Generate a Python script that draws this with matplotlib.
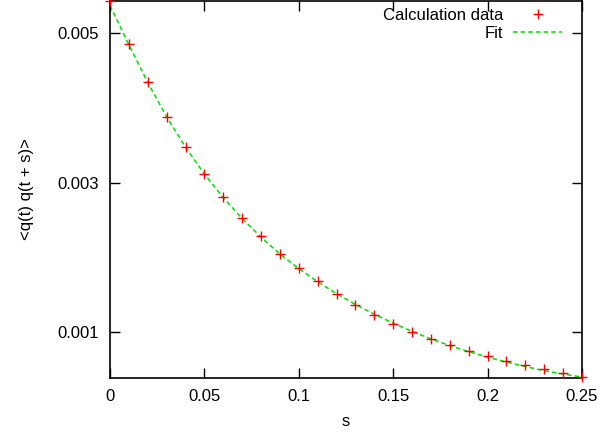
import matplotlib
matplotlib.use("Agg")
import matplotlib.pyplot as plt

s_data = [0.00, 0.01, 0.02, 0.03, 0.04, 0.05, 0.06, 0.07, 0.08, 0.09,
          0.10, 0.11, 0.12, 0.13, 0.14, 0.15, 0.16, 0.17, 0.18, 0.19,
          0.20, 0.21, 0.22, 0.23, 0.24, 0.25]
corr_data = [0.00543, 0.004857, 0.004343, 0.003876, 0.00348, 0.00312,
             0.002804, 0.002529, 0.00228, 0.002049, 0.001857, 0.00168,
             0.001516, 0.001369, 0.001227, 0.001107, 0.001009, 0.000911,
             0.000822, 0.000747, 0.00068, 0.000613, 0.00056, 0.000507,
             0.000457, 0.000404]
# fit curve
s_fit = [0.00, 0.01, 0.02, 0.03, 0.04, 0.05, 0.06, 0.07, 0.08, 0.09,
         0.10, 0.11, 0.12, 0.13, 0.14, 0.15, 0.16, 0.17, 0.18, 0.19,
         0.20, 0.21, 0.22, 0.23, 0.24, 0.25]
corr_fit = [0.00537, 0.004845, 0.004340, 0.003880, 0.003475, 0.003115,
            0.002800, 0.002520, 0.002270, 0.002045, 0.001850, 0.001675,
            0.001515, 0.001370, 0.001240, 0.001120, 0.001010, 0.000910,
            0.000820, 0.000740, 0.000665, 0.000600, 0.000540, 0.000485,
            0.000440, 0.000400]

plt.rcParams["font.family"] = ["Liberation Sans", "DejaVu Sans"]
plt.rcParams["font.size"] = 12

fig = plt.figure(figsize=(6, 4.33), dpi=100)
ax = fig.add_axes([110 / 600, 55 / 433, 472 / 600, 377 / 433])

ax.plot(s_data, corr_data, "+", color="red", ms=7.5, mew=1.0,
        label="Calculation data", clip_on=False, zorder=3)
ax.plot(s_fit, corr_fit, color="#00e000", lw=1.1, dashes=(3, 2),
        label="Fit", zorder=2)

ax.set_xlim(0, 0.25)
ax.set_ylim(0.000387, 0.00543)
ax.set_xticks([0, 0.05, 0.1, 0.15, 0.2, 0.25])
ax.set_xticklabels(["0", "0.05", "0.1", "0.15", "0.2", "0.25"])
ax.set_yticks([0.001, 0.003, 0.005])
ax.set_yticklabels(["0.001", "0.003", "0.005"])
ax.tick_params(direction="in", top=True, right=True, length=7, width=1,
               pad=8)
for sp in ax.spines.values():
    sp.set_linewidth(1.2)

ax.set_xlabel("s", labelpad=7)
ax.set_ylabel("<q(t) q(t + s)>", labelpad=17)

ax.legend(loc="upper right", bbox_to_anchor=(0.958, 0.982), frameon=False,
          markerfirst=False, handlelength=2.95, handletextpad=0.6,
          labelspacing=0.2, borderaxespad=0, borderpad=0)

fig.savefig("out.png", dpi=100)
